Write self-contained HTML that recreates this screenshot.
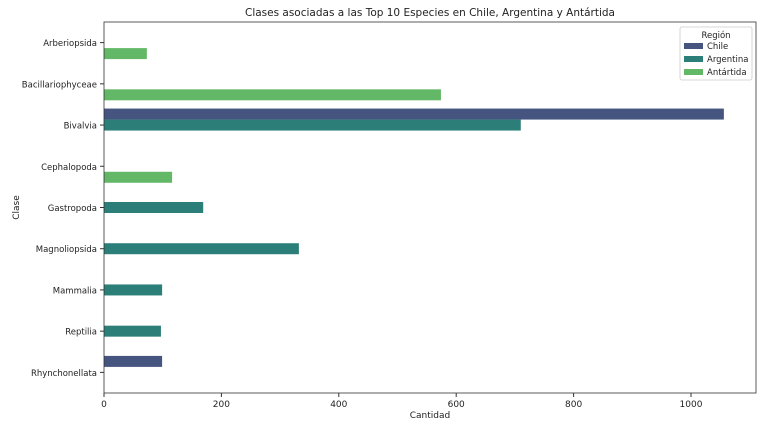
<!DOCTYPE html>
<html><head><meta charset="utf-8">
<style>
body{margin:0;background:#fff;font-family:"Liberation Sans","DejaVu Sans",sans-serif;}
svg text{font-family:"DejaVu Sans","Liberation Sans",sans-serif;fill:#222;}
</style></head>
<body>
<svg id="chart" width="765" height="429" xmlns="http://www.w3.org/2000/svg"></svg>
<script>
const categories=["Arberiopsida","Bacillariophyceae","Bivalvia","Cephalopoda","Gastropoda","Magnoliopsida","Mammalia","Reptilia","Rhynchonellata"];
const regions=["Chile","Argentina","Antártida"];
const chileValues=[0,0,1056,0,0,0,0,0,99];
const argentinaValues=[0,0,710,0,169,332,99,97,0];
const antartidaValues=[73,574,0,116,0,0,0,0,0];
const xTicks=[0,200,400,600,800,1000];
const colors=["#465480","#2c7f78","#62b866"];
const series=[chileValues,argentinaValues,antartidaValues];
const L=104,R=756,T=22,B=393;
const xs=v=>L+v*0.587;
const step=(B-T)/categories.length;
const yc=i=>T+step*(i+0.5);
const bh=step*0.8/3;
const ns="http://www.w3.org/2000/svg";
const svg=document.getElementById('chart');
function mk(t,a,txt){const e=document.createElementNS(ns,t);for(const k in a)e.setAttribute(k,a[k]);if(txt!==undefined)e.textContent=txt;svg.appendChild(e);return e;}
series.forEach((s,si)=>{s.forEach((v,i)=>{if(!v)return;
const r=mk('rect',{x:L,y:yc(i)+(si-1)*bh-bh/2,width:xs(v)-L,height:bh,fill:colors[si]});

});});
mk('rect',{x:L,y:T,width:R-L,height:B-T,fill:'none',stroke:'#333','stroke-width':0.8});
categories.forEach((c,i)=>{mk('line',{x1:L-4,x2:L,y1:yc(i),y2:yc(i),stroke:'#333'});
const t=mk('text',{x:L-7,y:yc(i)+3.5,'text-anchor':'end','font-size':8.5},c);

});
xTicks.forEach(v=>{mk('line',{x1:xs(v),x2:xs(v),y1:B,y2:B+4,stroke:'#333'});
const t=mk('text',{x:xs(v),y:B+14,'text-anchor':'middle','font-size':9},v);

});
let t=mk('text',{x:(L+R)/2,y:16,'text-anchor':'middle','font-size':10.5},'Clases asociadas a las Top 10 Especies en Chile, Argentina y Antártida');


t=mk('text',{x:(L+R)/2,y:418,'text-anchor':'middle','font-size':9},'Cantidad');


t=mk('text',{x:19,y:(T+B)/2,'text-anchor':'middle','font-size':9,transform:'rotate(-90 19 '+(T+B)/2+')'},'Clase');


const lg=mk('rect',{x:680,y:27,width:72,height:53,fill:'#fff',stroke:'#ccc','stroke-width':0.8,rx:2});


mk('text',{x:716,y:38,'text-anchor':'middle','font-size':8.5},'Región');
regions.forEach((r,i)=>{const y=46+i*13;
mk('rect',{x:684,y:y-3,width:19,height:6,fill:colors[i]});
const e=mk('text',{x:707,y:y+3,'font-size':8.5},r);

});
</script>
</body></html>
